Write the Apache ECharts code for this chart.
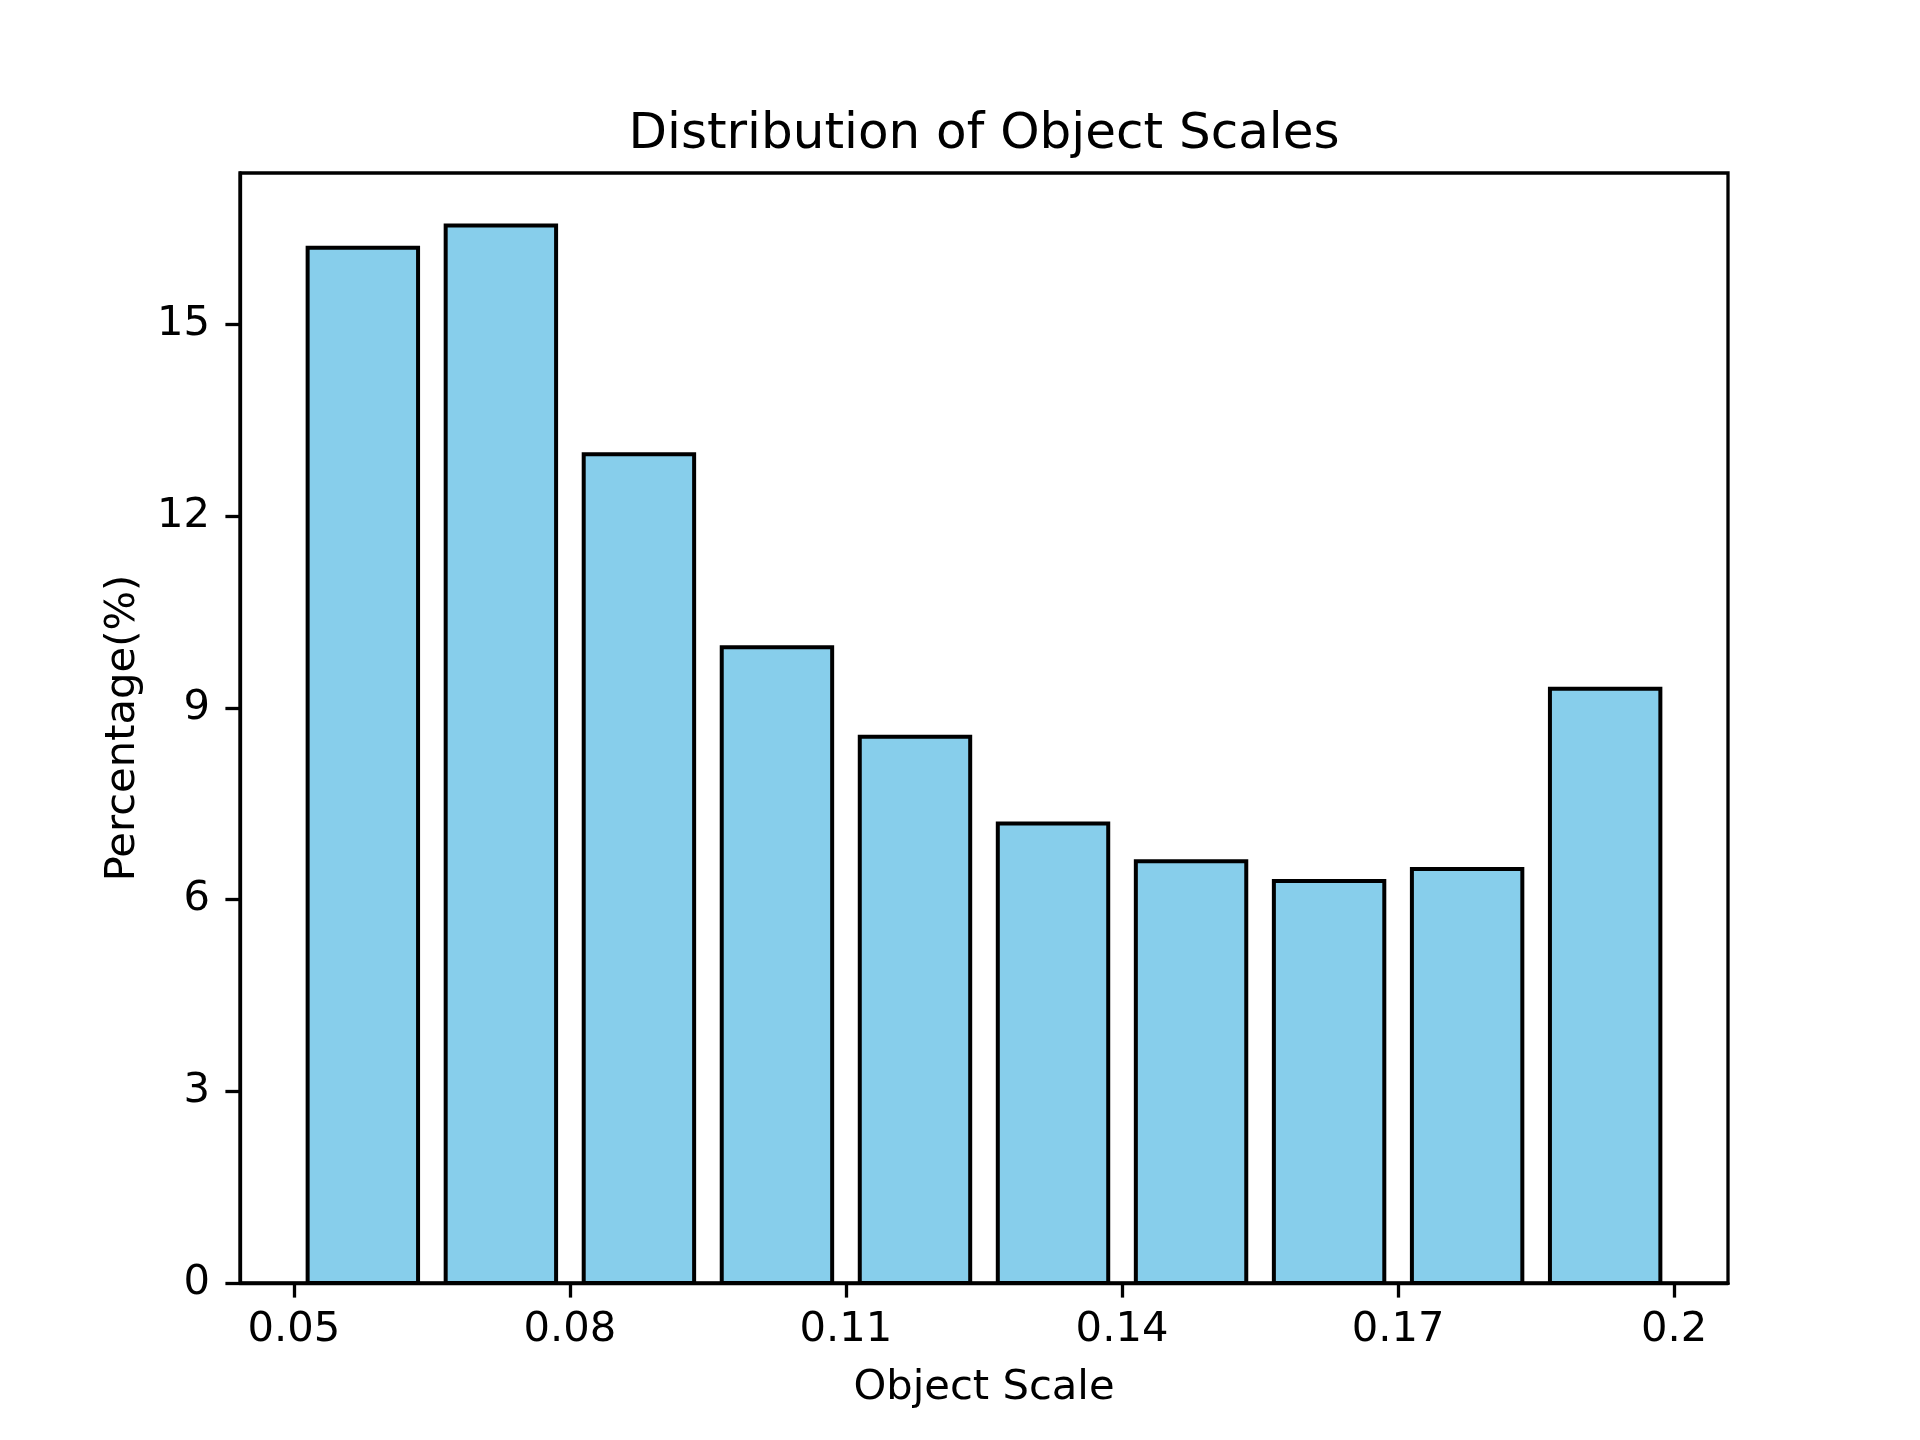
<!DOCTYPE html>
<html>
<head>
<meta charset="utf-8">
<script src="https://cdn.jsdelivr.net/npm/echarts@6/dist/echarts.min.js"></script>
<style>
html,body{margin:0;padding:0;background:#fff;}
#chart{width:1920px;height:1440px;}
</style>
</head>
<body>
<div id="chart"></div>
<script>
// Data
const binCenters = [0.0575, 0.0725, 0.0875, 0.1025, 0.1175, 0.1325, 0.1475, 0.1625, 0.1775, 0.1925];
const percentages = [16.2, 16.55, 12.97, 9.95, 8.55, 7.19, 6.6, 6.29, 6.48, 9.3];
const xTickValues = [0.05, 0.08, 0.11, 0.14, 0.17, 0.2];
const xTickLabels = ['0.05', '0.08', '0.11', '0.14', '0.17', '0.2'];
const yTickValues = [0, 3, 6, 9, 12, 15];

const BAR_WIDTH = 0.012;
const FONT = 'DejaVu Sans';

const chart = echarts.init(document.getElementById('chart'), null, {renderer: 'canvas'});

const option = {
  animation: false,
  backgroundColor: '#fff',
  title: {
    text: 'Distribution of Object Scales',
    left: 979,
    textAlign: 'center',
    top: 105,
    textStyle: {fontFamily: FONT, fontSize: 50, fontWeight: 'normal', color: '#000'}
  },
  grid: {
    left: 240, right: 192, top: 173, bottom: 157,
    show: true, borderColor: '#000', borderWidth: 3.3, backgroundColor: 'transparent'
  },
  xAxis: {
    type: 'value',
    min: 0.04415,
    max: 0.20585,
    name: 'Object Scale',
    nameLocation: 'middle',
    nameGap: 84,
    nameTextStyle: {fontFamily: FONT, fontSize: 41.7, color: '#000'},
    axisLine: {show: true, onZero: false, lineStyle: {color: '#000', width: 3.3}},
    axisTick: {show: true, customValues: xTickValues, length: 14.6, lineStyle: {color: '#000', width: 3.3}},
    axisLabel: {
      customValues: xTickValues,
      margin: 26,
      fontFamily: FONT, fontSize: 41.7, color: '#000',
      formatter: function (v) {
        const i = xTickValues.findIndex(t => Math.abs(t - v) < 1e-9);
        return i >= 0 ? xTickLabels[i] : '';
      }
    },
    splitLine: {show: false}
  },
  yAxis: {
    type: 'value',
    min: 0,
    max: 17.37,
    name: 'Percentage(%)',
    nameLocation: 'middle',
    nameRotate: 90,
    nameGap: 96,
    nameTextStyle: {fontFamily: FONT, fontSize: 41.7, color: '#000'},
    axisLine: {show: true, lineStyle: {color: '#000', width: 3.3}},
    axisTick: {show: true, customValues: yTickValues, length: 14.6, lineStyle: {color: '#000', width: 3.3}},
    axisLabel: {
      customValues: yTickValues,
      margin: 30,
      fontFamily: FONT, fontSize: 41.7, color: '#000',
      formatter: v => String(v)
    },
    splitLine: {show: false}
  },
  series: [{
    type: 'custom',
    data: binCenters.map((c, i) => [c, percentages[i]]),
    renderItem: function (params, api) {
      const c = api.value(0), v = api.value(1);
      const p0 = api.coord([c - BAR_WIDTH / 2, v]);
      const p1 = api.coord([c + BAR_WIDTH / 2, 0]);
      return {
        type: 'rect',
        shape: {x: p0[0], y: p0[1], width: p1[0] - p0[0], height: p1[1] - p0[1]},
        style: {fill: '#87CEEB', stroke: '#000', lineWidth: 4}
      };
    }
  }]
};
chart.setOption(option);
</script>
</body>
</html>
